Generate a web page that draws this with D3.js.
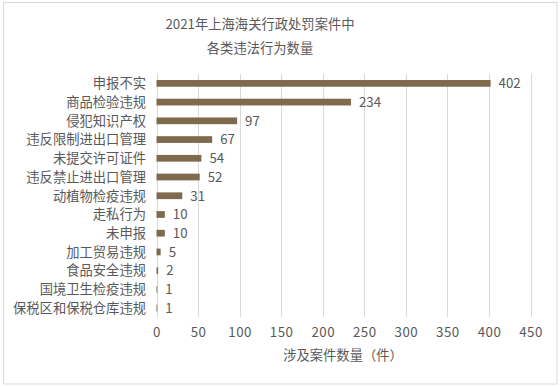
<!DOCTYPE html>
<html><head><meta charset="utf-8">
<script src="https://cdn.jsdelivr.net/npm/d3@7"></script>
<style>
html,body{margin:0;padding:0;background:#fff;}
text{font-family:"Noto Sans CJK SC","Noto Sans",sans-serif;fill:#595959;}
</style></head><body>
<svg id="c" width="560" height="387"></svg>
<script>
const titleLines = ["2021年上海海关行政处罚案件中", "各类违法行为数量"];
const categories = ["申报不实","商品检验违规","侵犯知识产权","违反限制进出口管理","未提交许可证件","违反禁止进出口管理","动植物检疫违规","走私行为","未申报","加工贸易违规","食品安全违规","国境卫生检疫违规","保税区和保税仓库违规"];
const values = [402,234,97,67,54,52,31,10,10,5,2,1,1];
const xTicks = [0,50,100,150,200,250,300,350,400,450];
const xTitle = "涉及案件数量（件）";

const svg = d3.select("#c");
svg.append("rect").attr("x",3.5).attr("y",2.5).attr("width",553.5).attr("height",381.5)
  .attr("fill","#fff").attr("stroke","#d9d9d9").attr("stroke-width",1);

const x = d3.scaleLinear().domain([0,450]).range([156.5,530.5]);
const y = d3.scaleBand().domain(categories).range([74,317.5]).paddingInner(0.64).paddingOuter(0.32);

// gridlines
svg.append("g").selectAll("line").data(xTicks).join("line")
  .attr("x1",d=>Math.round(x(d))+0.5).attr("x2",d=>Math.round(x(d))+0.5)
  .attr("y1",74).attr("y2",317)
  .attr("stroke","#d9d9d9").attr("stroke-width",1);

// bars
svg.append("g").selectAll("rect").data(values).join("rect")
  .attr("x",x(0)).attr("y",(d,i)=>y(categories[i]))
  .attr("width",d=>x(d)-x(0)).attr("height",y.bandwidth())
  .attr("fill","#7f6a4e");

// data labels
svg.append("g").selectAll("text").data(values).join("text")
  .attr("x",d=>x(d)+8).attr("y",(d,i)=>y(categories[i])+y.bandwidth()/2)
  .attr("dy","0.36em").attr("font-size",13.3).text(d=>d);

// category axis labels
svg.append("g").selectAll("text").data(categories).join("text")
  .attr("x",146).attr("y",d=>y(d)+y.bandwidth()/2).attr("dy","0.36em")
  .attr("text-anchor","end").attr("font-size",13.3).text(d=>d);

// x axis tick labels
const xAxis = d3.axisBottom(x).tickValues(xTicks).tickSize(0).tickPadding(0);
const gx = svg.append("g").attr("transform","translate(0,328)").call(xAxis);
gx.select(".domain").remove();
gx.selectAll("text").attr("font-size",13.3).attr("dy","0.71em").attr("letter-spacing","0.5px");

// x title
svg.append("text").attr("x",343).attr("y",355).attr("dy","0.36em")
  .attr("text-anchor","middle").attr("font-size",13.3).text(xTitle);

// title
svg.append("g").selectAll("text").data(titleLines).join("text")
  .attr("x",260).attr("y",(d,i)=>24+i*24).attr("dy","0.36em")
  .attr("text-anchor","middle").attr("font-size",13.3).text(d=>d);
</script>
</body></html>
